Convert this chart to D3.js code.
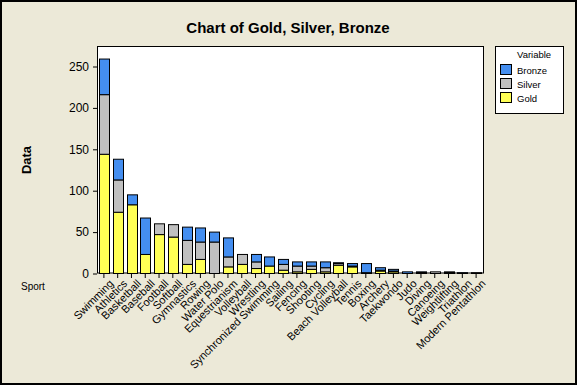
<!DOCTYPE html>
<html>
<head>
<meta charset="utf-8">
<script src="https://cdn.jsdelivr.net/npm/d3@7"></script>
<style>
  body { margin: 0; background: #ece9d8; }
  svg { display: block; }
</style>
</head>
<body>
<div id="chart"></div>
<script>
// values
const sports = ["Swimming", "Athletics", "Basketball", "Baseball", "Football", "Softball",
  "Gymnastics", "Rowing", "Water Polo", "Equestrianism", "Volleyball", "Wrestling",
  "Synchronized Swimming", "Sailing", "Fencing", "Shooting", "Cycling", "Beach Volleyball",
  "Tennis", "Boxing", "Archery", "Taekwondo", "Judo", "Diving", "Canoeing",
  "Weightlifting", "Triathlon", "Modern Pentathlon"];
const gold   = [144, 74, 83, 23, 47, 44, 11, 17, 0, 8, 11, 6, 9, 4, 2, 5, 2, 10, 8, 1, 3, 2, 0, 1, 0, 1, 0, 0];
const silver = [72, 39, 0, 0, 13, 15, 29, 21, 38, 12, 12, 8, 0, 7, 7, 4, 5, 2, 1, 0, 1, 1, 0, 0, 2, 1, 0, 1];
const bronze = [43, 25, 12, 44, 0, 0, 16, 17, 12, 23, 0, 9, 11, 6, 5, 5, 7, 1, 3, 11, 3, 2, 2, 1, 0, 0, 1, 0];
const yTicks = [0, 50, 100, 150, 200, 250];

const seriesNames = ["Gold", "Silver", "Bronze"];
const colors = {Gold: "#ffff55", Silver: "#c0c0c0", Bronze: "#448ef0"};

const W = 577, H = 385;
const margin = {left: 97, right: 94, top: 46, bottom: 111};
const font = "'Liberation Sans', Arial, sans-serif";

const table = sports.map((s, i) => ({sport: s, Gold: gold[i], Silver: silver[i], Bronze: bronze[i]}));
const stacked = d3.stack().keys(seriesNames)(table);

const svg = d3.select("#chart").append("svg")
    .attr("width", W)
    .attr("height", H);

svg.append("rect")
    .attr("x", 1).attr("y", 1)
    .attr("width", W - 2).attr("height", H - 2)
    .attr("fill", "#ece9d8")
    .attr("stroke", "#000")
    .attr("stroke-width", 2);

const x = d3.scaleBand()
    .domain(sports)
    .range([margin.left, W - margin.right])
    .paddingInner(0.28)
    .paddingOuter(0.14);

const y = d3.scaleLinear()
    .domain([0, 250])
    .range([273.5, 66.5]);

// plot area
svg.append("rect")
    .attr("x", margin.left + 0.5)
    .attr("y", margin.top + 0.5)
    .attr("width", W - margin.right - margin.left)
    .attr("height", H - margin.bottom - margin.top - 1.5)
    .attr("fill", "#fff")
    .attr("stroke", "#000");

// title
svg.append("text")
    .attr("x", 288).attr("y", 33)
    .attr("text-anchor", "middle")
    .attr("font-family", font)
    .attr("font-weight", "bold")
    .attr("font-size", 15)
    .text("Chart of Gold, Silver, Bronze");

// bars
svg.append("g")
  .selectAll("g")
  .data(stacked)
  .join("g")
    .attr("fill", d => colors[d.key])
  .selectAll("rect")
  .data(d => d.filter(p => p[1] > p[0]))
  .join("rect")
    .attr("x", d => Math.round(x(d.data.sport)) + 0.5)
    .attr("y", d => y(d[1]))
    .attr("width", Math.round(x.bandwidth()))
    .attr("height", d => y(d[0]) - y(d[1]))
    .attr("stroke", "#000")
    .attr("stroke-width", 1);

// y axis
const yAxis = svg.append("g")
    .attr("transform", `translate(${margin.left},0)`)
    .call(d3.axisLeft(y).tickValues(yTicks).tickSize(4).tickPadding(4));
yAxis.select(".domain").remove();
yAxis.selectAll("text")
    .attr("font-family", font)
    .attr("font-size", 12)
    .attr("fill", "#000");

// x axis
const xAxis = svg.append("g")
    .attr("transform", `translate(0,${274})`)
    .call(d3.axisBottom(x).tickSize(4).tickPadding(3));
xAxis.select(".domain").remove();
xAxis.selectAll("text")
    .attr("font-family", font)
    .attr("font-size", 11)
    .attr("fill", "#000")
    .attr("text-anchor", "end")
    .attr("dy", "0.3em")
    .attr("transform", "translate(3,3) rotate(-45)");

// axis titles
svg.append("text")
    .attr("transform", "translate(31,160) rotate(-90)")
    .attr("text-anchor", "middle")
    .attr("font-family", font)
    .attr("font-weight", "bold")
    .attr("font-size", 13)
    .text("Data");

svg.append("text")
    .attr("x", 21).attr("y", 290)
    .attr("font-family", font)
    .attr("font-size", 10)
    .text("Sport");

// legend
const legend = svg.append("g");
legend.append("rect")
    .attr("x", 495.5).attr("y", 46.5)
    .attr("width", 68).attr("height", 67)
    .attr("fill", "#fff")
    .attr("stroke", "#000");
legend.append("text")
    .attr("x", 517).attr("y", 58)
    .attr("font-family", font)
    .attr("font-size", 9.5)
    .text("Variable");

const legendItems = ["Bronze", "Silver", "Gold"];
const ly = d3.scalePoint().domain(legendItems).range([64.5, 92.5]);
legendItems.forEach(k => {
  legend.append("rect")
      .attr("x", 500.5).attr("y", ly(k))
      .attr("width", 11).attr("height", 10)
      .attr("fill", colors[k])
      .attr("stroke", "#000");
  legend.append("text")
      .attr("x", 517).attr("y", ly(k) + 9)
      .attr("font-family", font)
      .attr("font-size", 9.5)
      .text(k);
});
</script>
</body>
</html>
